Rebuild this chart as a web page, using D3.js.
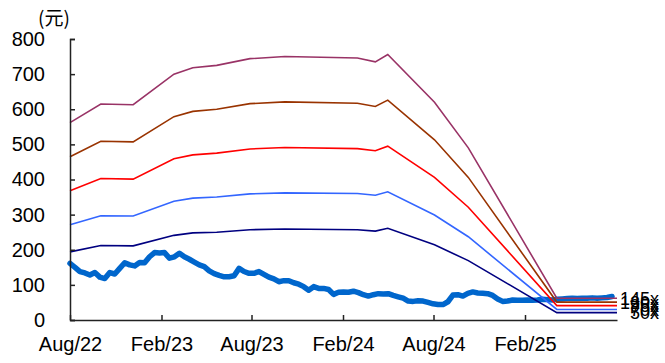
<!DOCTYPE html>
<html>
<head>
<meta charset="utf-8">
<script src="https://cdn.jsdelivr.net/npm/d3@7"></script>
<style>
  html, body { margin: 0; padding: 0; background: #fff; }
  svg { display: block; font-family: "Liberation Sans", Arial, sans-serif; }
</style>
</head>
<body>
<svg id="chart" width="665" height="363"></svg>
<script>
// ---------------- data ----------------
const unitLabel = "(元)";
const yTicks = [0, 100, 200, 300, 400, 500, 600, 700, 800];
const xTicks = ["2022-08-01", "2023-02-01", "2023-08-01", "2024-02-01", "2024-08-01", "2025-02-01"];
const xDomain = ["2022-08-01", "2025-08-05"];

// price series: one reading every 10 days starting at priceStart
const priceStart = "2022-08-01";
const priceStepDays = 10;
const priceValues = [
  161,150,138,134,128,135,122,118,135,131,147,163,157,154,164,163,180,192,191,192,
  176,180,190,180,173,165,157,152,140,132,127,123,123,126,147,138,133,133,138,130,
  122,117,109,112,112,106,102,95,85,95,90,90,87,73,79,80,79,82,78,72,
  68,72,75,74,75,70,66,62,54,53,55,54,50,46,44,44,52,71,72,68,
  76,80,77,76,75,70,60,53,54,57,56,56,57,56,57,59,58,57,59,60,
  61,62,61,62,62,63,62,63,64,67
];

// PE band lines (dates of breakpoints and values for each multiple)
const bandDates = ["2022-08-01","2022-10-02","2022-12-06","2023-02-26","2023-04-05","2023-05-23",
  "2023-07-29","2023-10-07","2024-03-01","2024-04-06","2024-05-01","2024-08-03","2024-10-10",
  "2025-04-06","2025-08-05"];
const bandLabels = ["50x", "70x", "95x", "120x", "145x"];
const band50  = [194,212,211,241,248,250,257,259,257,253,261,214,169,21,21];
const band70  = [271,297,296,338,347,350,359,362,360,355,365,299,237,30,30];
const band95  = [368,403,401,459,470,475,487,491,488,482,495,406,321,41,41];
const band120 = [465,509,507,579,594,600,616,621,617,608,626,513,406,51,51];
const band145 = [562,615,613,700,718,725,744,750,746,735,756,620,490,62,62];
const bandSeries = [band50, band70, band95, band120, band145];
const bandColors = ["#000080", "#3366ff", "#ff0000", "#993300", "#993366"];
const priceColor = "#0066cc";

// ---------------- chart ----------------
const svg = d3.select("#chart");
const parse = d3.timeParse("%Y-%m-%d");
const fmt = d3.timeFormat("%b/%y");

const x = d3.scaleTime().domain(xDomain.map(parse)).range([70, 617]);
const y = d3.scaleLinear().domain([0, 800]).range([320, 39]);

const t0 = parse(priceStart);
const price = priceValues.map((v, i) => ({ d: d3.timeDay.offset(t0, i * priceStepDays), v }));

const line = d3.line().x(p => x(p.d)).y(p => y(p.v));

// price line (thick)
svg.append("path")
  .datum(price)
  .attr("d", line)
  .attr("fill", "none")
  .attr("stroke", priceColor)
  .attr("stroke-width", 5.5)
  .attr("stroke-linejoin", "round")
  .attr("stroke-linecap", "round");

// band lines
const bDates = bandDates.map(parse);
bandSeries.forEach((s, k) => {
  const pts = s.map((v, i) => ({ d: bDates[i], v }));
  svg.append("path")
    .datum(pts)
    .attr("d", line)
    .attr("fill", "none")
    .attr("stroke", bandColors[k])
    .attr("stroke-width", 1.6);
});

// right-end labels (they overlap in the reference too)
bandSeries.forEach((s, k) => {
  svg.append("text")
    .attr("x", 659)
    .attr("y", y(s[s.length - 1]))
    .attr("dy", "0.36em")
    .attr("text-anchor", "end")
    .attr("font-size", 18)
    .attr("fill", "#000")
    .text(bandLabels[k]);
});

// y axis
const yAxis = svg.append("g")
  .attr("transform", "translate(70,0)")
  .call(d3.axisRight(y).tickValues(yTicks).tickSize(5).tickFormat(d3.format("d")));
yAxis.select(".domain").attr("stroke", "#222").attr("stroke-width", 1.5);
yAxis.selectAll(".tick line").attr("stroke", "#222").attr("stroke-width", 1.5);
yAxis.selectAll(".tick text")
  .attr("x", -25)
  .attr("text-anchor", "end")
  .attr("font-size", 20)
  .attr("font-family", "'Liberation Sans', Arial, sans-serif")
  .attr("fill", "#000");

// x axis
const xAxis = svg.append("g")
  .attr("transform", "translate(0,320)")
  .call(d3.axisTop(x).tickValues(xTicks.map(parse)).tickSize(5).tickFormat(fmt).tickSizeOuter(0));
xAxis.select(".domain").attr("stroke", "#222").attr("stroke-width", 1.5);
xAxis.selectAll(".tick line").attr("stroke", "#222").attr("stroke-width", 1.5);
xAxis.selectAll(".tick text")
  .attr("y", 31)
  .attr("dy", 0)
  .attr("font-size", 20)
  .attr("font-family", "'Liberation Sans', Arial, sans-serif")
  .attr("fill", "#000");

// unit label
svg.append("text")
  .attr("x", 38)
  .attr("y", 25)
  .attr("font-size", 19)
  .attr("font-family", "'Noto Sans CJK SC', sans-serif")
  .attr("fill", "#000")
  .text(unitLabel);
</script>
</body>
</html>
